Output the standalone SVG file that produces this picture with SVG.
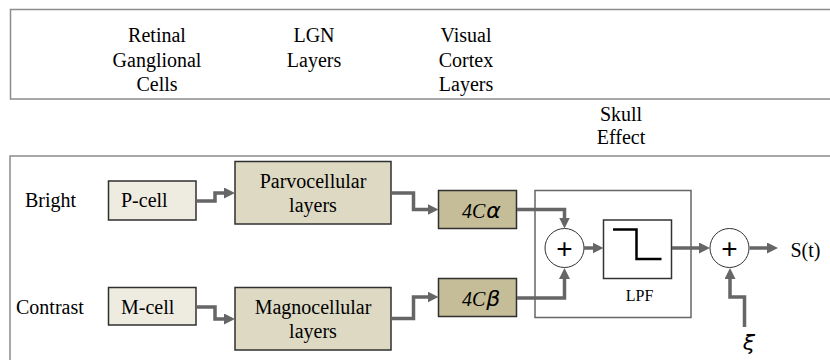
<svg xmlns="http://www.w3.org/2000/svg" width="830" height="360" viewBox="0 0 830 360" font-family="'Liberation Serif', 'Times New Roman', serif">
<defs>
<marker id="ah" markerUnits="userSpaceOnUse" markerWidth="12" markerHeight="11" refX="3" refY="5.5" orient="auto"><path d="M0,0 L11,5.5 L0,11 z" fill="#666"/></marker>
<style>
.t{font-family:'Liberation Serif','Times New Roman',serif;font-size:20px;fill:#000}
.c{text-anchor:middle}
.frame{fill:none;stroke:#8c8c8c;stroke-width:1.5}
.box{stroke:#2f2f2f;stroke-width:1.5}
.b1{fill:#EEECE1}
.b2{fill:#DDD9C3}
.b3{fill:#C4BD97}
.conn{fill:none;stroke:#666;stroke-width:3.5;marker-end:url(#ah)}
.it{font-style:italic}
.greek{font-family:'DejaVu Sans',sans-serif;font-style:italic;font-size:22px}
.sum{fill:#fff;stroke:#333;stroke-width:1}
.plus{font-family:'Liberation Sans',Arial,sans-serif;font-size:28px;text-anchor:middle;fill:#000}
</style>
</defs>
<rect width="830" height="360" fill="#fff"/>
<g id="frames">
<path class="frame" d="M832,9.5 H10.5 V99 H832"/>
<path class="frame" d="M832,156 H10 V362"/>
</g>
<g id="headers">
<text class="t c" x="157" y="42">Retinal</text>
<text class="t c" x="157" y="66.5">Ganglional</text>
<text class="t c" x="157" y="91">Cells</text>
<text class="t c" x="314" y="42">LGN</text>
<text class="t c" x="314" y="66.5">Layers</text>
<text class="t c" x="466" y="42">Visual</text>
<text class="t c" x="466" y="66.5">Cortex</text>
<text class="t c" x="466" y="91">Layers</text>
<text class="t c" x="621" y="120.5">Skull</text>
<text class="t c" x="621" y="143.5">Effect</text>
</g>
<g id="labels">
<text class="t" x="25" y="207">Bright</text>
<text class="t" x="16" y="314">Contrast</text>
</g>
<g id="pcell">
<rect class="box b1" x="108.5" y="181" width="87.5" height="39"/>
<text class="t" x="121" y="207">P-cell</text>
</g>
<g id="mcell">
<rect class="box b1" x="108.5" y="287.5" width="87.5" height="37.5"/>
<text class="t" x="121" y="314">M-cell</text>
</g>
<g id="parvo">
<rect class="box b2" x="235" y="161.5" width="156" height="62.5"/>
<text class="t c" x="313" y="188">Parvocellular</text>
<text class="t c" x="313" y="212">layers</text>
</g>
<g id="magno">
<rect class="box b2" x="235" y="287.5" width="156" height="62.5"/>
<text class="t c" x="313" y="314">Magnocellular</text>
<text class="t c" x="313" y="338">layers</text>
</g>
<g id="c4a">
<rect class="box b3" x="438.5" y="190.5" width="78" height="38"/>
<text class="t" x="462" y="218"><tspan class="it">4C</tspan><tspan class="greek" dx="1">α</tspan></text>
</g>
<g id="c4b">
<rect class="box b3" x="438.5" y="278.5" width="78" height="38"/>
<text class="t" x="462" y="306"><tspan class="it">4C</tspan><tspan class="greek" dx="1">β</tspan></text>
</g>
<g id="skull">
<rect x="535" y="190.5" width="156" height="127" fill="#fff" stroke="#666" stroke-width="1.5"/>
</g>
<g id="sum1">
<circle class="sum" cx="564.5" cy="248" r="19.5"/>
<text class="plus" x="564.5" y="257.5">+</text>
</g>
<g id="lpf">
<rect x="603.5" y="220" width="68" height="58.5" fill="#fff" stroke="#333" stroke-width="1.5"/>
<polyline points="613,229.5 636.5,229.5 636.5,259 661.5,259" fill="none" stroke="#000" stroke-width="2.5"/>
<text class="t c" x="639.5" y="300.5" style="font-size:16px">LPF</text>
</g>
<g id="sum2">
<circle class="sum" cx="729.5" cy="248" r="19.5"/>
<text class="plus" x="729.5" y="257.5">+</text>
</g>
<g id="output">
<text class="t" x="790.5" y="256.5">S(t)</text>
</g>
<g id="noise">
<text class="t greek c" x="749" y="350">ξ</text>
</g>
<g id="connectors">
<path class="conn" d="M196,201 H215 V193 H227"/>
<path class="conn" d="M196,307 H215 V319 H227"/>
<path class="conn" d="M391,193 H413.5 V209.5 H430.5"/>
<path class="conn" d="M391,318.5 H413.5 V297 H430.5"/>
<path class="conn" d="M517,209.5 H564.5 V220.5"/>
<path class="conn" d="M517,298 H564.5 V276"/>
<path class="conn" d="M584,248 H595.5"/>
<path class="conn" d="M672,248 H702"/>
<path class="conn" d="M749.5,248 H770"/>
<path class="conn" d="M744.5,327 V297 H730 V276"/>
</g>
</svg>
